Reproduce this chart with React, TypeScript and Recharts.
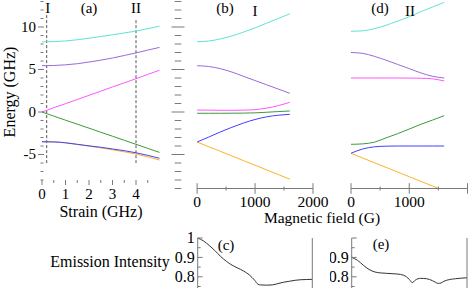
import { LineChart, Line, XAxis, YAxis, ReferenceLine } from "recharts";

// panel (a): energy vs strain
const strain = [0, 0.5, 1, 1.5, 2, 2.5, 3, 3.5, 4, 4.5, 5];
const aCyan = [8.25, 8.28, 8.36, 8.5, 8.68, 8.88, 9.08, 9.3, 9.52, 9.8, 10.1];
const aPurple = [5.45, 5.47, 5.55, 5.68, 5.88, 6.1, 6.35, 6.65, 6.95, 7.28, 7.6];
const aMagenta = [0, 0.5, 0.98, 1.47, 1.96, 2.45, 2.95, 3.43, 3.92, 4.42, 4.92];
const aGreen = [0, -0.48, -0.96, -1.43, -1.9, -2.38, -2.85, -3.33, -3.8, -4.28, -4.75];
const aBlue = [-3.5, -3.52, -3.62, -3.8, -3.98, -4.15, -4.35, -4.55, -4.8, -5.1, -5.45];
const aOrange = [-3.5, -3.52, -3.63, -3.82, -4.02, -4.22, -4.45, -4.68, -4.95, -5.28, -5.65];

// panels (b) and (d): energy vs magnetic field
const field = [0, 200, 400, 600, 800, 1000, 1200, 1400, 1600];
const bCyan = [8.27, 8.35, 8.6, 8.95, 9.4, 9.9, 10.45, 11.0, 11.55];
const bPurple = [5.45, 5.35, 5.1, 4.7, 4.2, 3.7, 3.2, 2.7, 2.2];
const bMagenta = [0.23, 0.22, 0.2, 0.2, 0.22, 0.28, 0.45, 0.75, 1.14];
const bGreen = [-0.15, -0.15, -0.15, -0.14, -0.13, -0.1, -0.03, 0.05, 0.12];
const bBlue = [-3.53, -2.95, -2.35, -1.8, -1.3, -0.88, -0.57, -0.38, -0.27];
const bOrange = [-3.53, -4.08, -4.62, -5.17, -5.72, -6.26, -6.81, -7.36, -7.9];

const dCyan = [9.5, 9.55, 9.8, 10.2, 10.7, 11.2, 11.8, 12.35, 12.9];
const dPurple = [7.0, 6.9, 6.55, 6.1, 5.6, 5.1, 4.6, 4.2, 4.0];
const dMagenta = [4.0, 4.0, 4.0, 4.0, 4.0, 3.99, 3.97, 3.9, 3.65];
const dGreen = [-3.8, -3.75, -3.55, -3.05, -2.55, -2.0, -1.45, -0.95, -0.43];
const dBlue = [-4.86, -4.35, -4.1, -4.02, -4.0, -4.0, -4.0, -4.0, -4.0];
const dOrange = [-4.86, -5.41, -5.96, -6.51, -7.06, -7.61, -8.16, -8.71, -9.26];

// panels (c) and (e): emission intensity
const cField = [0, 100, 200, 300, 400, 500, 600, 700, 800, 900, 1000, 1050, 1100, 1200, 1300, 1400, 1500, 1600, 1700, 1800, 1900, 2000];
const cIntensity = [1.0, 0.985, 0.962, 0.935, 0.905, 0.88, 0.86, 0.845, 0.83, 0.81, 0.78, 0.762, 0.758, 0.757, 0.758, 0.765, 0.772, 0.777, 0.782, 0.785, 0.786, 0.787];
const eField = [0, 100, 200, 300, 400, 500, 600, 700, 800, 900, 950, 1000, 1050, 1100, 1150, 1200, 1300, 1400, 1450, 1500, 1550, 1600, 1700, 1800, 1900, 2000];
const eIntensity = [0.9, 0.885, 0.86, 0.838, 0.825, 0.82, 0.818, 0.816, 0.814, 0.808, 0.8, 0.786, 0.77, 0.782, 0.79, 0.792, 0.79, 0.78, 0.772, 0.766, 0.768, 0.777, 0.786, 0.79, 0.793, 0.795];

const energyTicksA = [-8, -7, -6, -5, -4, -3, -2, -1, 0, 1, 2, 3, 4, 5, 6, 7, 8, 9, 10, 11, 12, 13];
const energyTicksB = [-9, ...energyTicksA];
const strainTicks = [0, 0.5, 1, 1.5, 2, 2.5, 3, 3.5, 4, 4.5];
const fieldTicks = [0, 500, 1000, 1500, 2000];
const intensityTicks = [0.75, 0.8, 0.85, 0.9, 0.95, 1];

const COLORS = {
  cyan: "#62e2d4",
  purple: "#9a6ad8",
  magenta: "#ff55ff",
  green: "#3c9a3c",
  blue: "#4040ff",
  orange: "#ffb028",
};
const AXIS = "#7a7a7a";
const FONT = '"Liberation Serif", "Times New Roman", serif';

const strainData = strain.map((x, i) => ({
  x,
  cyan: aCyan[i],
  purple: aPurple[i],
  magenta: aMagenta[i],
  green: aGreen[i],
  blue: aBlue[i],
  orange: aOrange[i],
}));
const bData = field.map((x, i) => ({
  x,
  cyan: bCyan[i],
  purple: bPurple[i],
  magenta: bMagenta[i],
  green: bGreen[i],
  blue: bBlue[i],
  orange: bOrange[i],
}));
const dData = field.map((x, i) => ({
  x,
  cyan: dCyan[i],
  purple: dPurple[i],
  magenta: dMagenta[i],
  green: dGreen[i],
  blue: dBlue[i],
  orange: dOrange[i],
}));
const cData = cField.map((x, i) => ({ x, v: cIntensity[i] }));
const eData = eField.map((x, i) => ({ x, v: eIntensity[i] }));

const seriesOrder = ["orange", "blue", "green", "magenta", "purple", "cyan"] as const;

function levelLines() {
  return seriesOrder.map((k) => (
    <Line
      key={k}
      type="monotone"
      dataKey={k}
      stroke={COLORS[k]}
      strokeWidth={1}
      dot={false}
      isAnimationActive={false}
    />
  ));
}

// left energy tick of panel (a), with labels at multiples of 5
function EnergyTickA(props: any) {
  const { x, y, payload } = props;
  const v = payload.value;
  const major = v % 5 === 0;
  return (
    <g>
      <line x1={x - (major ? 4 : 1.5)} x2={x + (major ? 2 : 1.5)} y1={y} y2={y} stroke={AXIS} />
      {major && v > -8 && (
        <text x={x - 6} y={y} dy="0.33em" textAnchor="end" fontSize={15} fontFamily={FONT} fill="#000">
          {v}
        </text>
      )}
    </g>
  );
}

// energy ticks of panel (b), no labels
function EnergyTickB(props: any) {
  const { x, y, payload } = props;
  const major = payload.value % 5 === 0;
  const h = major ? 6.5 : 3.3;
  return <line x1={x - h} x2={x + h} y1={y} y2={y} stroke={AXIS} />;
}

function StrainTick(props: any) {
  const { x, y, payload } = props;
  const v = payload.value;
  const major = Number.isInteger(v);
  return (
    <g>
      <line x1={x} x2={x} y1={y} y2={y + (major ? 5 : 3)} stroke={AXIS} />
      {major && (
        <text x={x} y={y + 14} dy="0.33em" textAnchor="middle" fontSize={15} fontFamily={FONT} fill="#000">
          {v}
        </text>
      )}
    </g>
  );
}

function makeFieldTick(showLast: boolean) {
  return (props: any) => {
    const { x, y, payload } = props;
    const v = payload.value;
    const major = v % 1000 === 0;
    const h = major ? 5.3 : 2;
    return (
      <g>
        <line x1={x} x2={x} y1={y - h} y2={y + h} stroke={AXIS} />
        {major && (showLast || v < 2000) && (
          <text x={x} y={y + 13.5} dy="0.33em" textAnchor="middle" fontSize={15.5} fontFamily={FONT} fill="#000">
            {v}
          </text>
        )}
      </g>
    );
  };
}

function makeIntensityTick(side: "left" | "right", showOne: boolean) {
  return (props: any) => {
    const { x, y, payload } = props;
    const v = payload.value;
    const major = Math.round(v * 100) % 10 === 0;
    const len = major ? 5 : 3;
    const dir = side === "left" ? 1 : -1;
    const label = v === 1 ? "1" : v.toFixed(1);
    return (
      <g>
        <line x1={x} x2={x + dir * len} y1={y} y2={y} stroke={AXIS} />
        {side === "left" && major && v >= 0.8 && (showOne || v < 1) && (
          <text x={x - 3} y={y} dy="0.33em" textAnchor="end" fontSize={16} fontFamily={FONT} fill="#000">
            {label}
          </text>
        )}
      </g>
    );
  };
}

function Txt({ x, y, size = 15, rotate = false, children }: any) {
  return (
    <div
      style={{
        position: "absolute",
        left: x,
        top: y,
        transform: `translate(-50%, -50%)${rotate ? " rotate(-90deg)" : ""}`,
        fontSize: size,
        lineHeight: 1,
        whiteSpace: "nowrap",
        color: "#000",
      }}
    >
      {children}
    </div>
  );
}

export default function App() {
  return (
    <div
      style={{
        position: "absolute",
        left: 0,
        top: 0,
        width: 469,
        height: 288,
        overflow: "hidden",
        background: "#fff",
        fontFamily: FONT,
      }}
    >
      {/* (a) energy vs strain */}
      <div style={{ position: "absolute", left: 0, top: 0 }}>
        <LineChart width={200} height={230} data={strainData} margin={{ top: 1.5, right: 40.5, bottom: 0, left: 0 }}>
          <XAxis
            dataKey="x"
            type="number"
            domain={[0, 5]}
            ticks={strainTicks}
            interval={0}
            axisLine={false}
            tickLine={false}
            tickSize={0}
            tickMargin={0}
            height={50}
            tick={StrainTick}
          />
          <YAxis
            type="number"
            domain={[-8, 13]}
            ticks={energyTicksA}
            interval={0}
            axisLine={false}
            tickLine={false}
            tickSize={0}
            tickMargin={0}
            width={42}
            tick={EnergyTickA}
          />
          <ReferenceLine segment={[{ x: 0.2, y: 11.4 }, { x: 0.2, y: -6 }]} stroke="#555" strokeDasharray="3 2" />
          <ReferenceLine segment={[{ x: 4, y: 10.8 }, { x: 4, y: -6 }]} stroke="#555" strokeDasharray="3 2" />
          {levelLines()}
        </LineChart>
      </div>

      {/* (b) energy vs field at strain I */}
      <div style={{ position: "absolute", left: 150, top: 0 }}>
        <LineChart width={180} height={230} data={bData} margin={{ top: 1.5, right: 17, bottom: 0, left: 0 }}>
          <XAxis
            dataKey="x"
            type="number"
            domain={[-330, 2000]}
            allowDataOverflow
            ticks={fieldTicks}
            interval={0}
            axisLine={false}
            tickLine={false}
            tickSize={0}
            tickMargin={0}
            height={41.5}
            tick={makeFieldTick(true)}
          />
          <YAxis
            type="number"
            domain={[-9, 13]}
            ticks={energyTicksB}
            interval={0}
            axisLine={false}
            tickLine={false}
            tickSize={0}
            tickMargin={0}
            width={28}
            tick={EnergyTickB}
          />
          <ReferenceLine segment={[{ x: 0, y: -9 }, { x: 2000, y: -9 }]} stroke={AXIS} />
          {levelLines()}
        </LineChart>
      </div>

      {/* (d) energy vs field at strain II */}
      <div style={{ position: "absolute", left: 330, top: 0 }}>
        <LineChart width={139} height={230} data={dData} margin={{ top: 1.5, right: 1.5, bottom: 0, left: 21 }}>
          <XAxis
            dataKey="x"
            type="number"
            domain={[0, 2000]}
            ticks={fieldTicks}
            interval={0}
            axisLine={{ stroke: AXIS }}
            tickLine={false}
            tickSize={0}
            tickMargin={0}
            height={41.5}
            tick={makeFieldTick(false)}
          />
          <YAxis type="number" domain={[-9, 13]} allowDataOverflow hide />
          {levelLines()}
        </LineChart>
      </div>

      {/* (c) emission intensity, strain I */}
      <div style={{ position: "absolute", left: 150, top: 230 }}>
        <LineChart width={180} height={70} data={cData} margin={{ top: 8, right: 16.7, bottom: 3.8, left: 0 }}>
          <XAxis dataKey="x" type="number" domain={[0, 2000]} hide />
          <YAxis
            type="number"
            domain={[0.7, 1]}
            ticks={intensityTicks}
            interval={0}
            axisLine={{ stroke: AXIS }}
            tickLine={false}
            tickSize={0}
            tickMargin={0}
            width={47.7}
            tick={makeIntensityTick("left", true)}
          />
          <YAxis
            yAxisId="r"
            orientation="right"
            type="number"
            domain={[0.7, 1]}
            ticks={intensityTicks}
            interval={0}
            axisLine={{ stroke: AXIS }}
            tickLine={false}
            tickSize={0}
            tickMargin={0}
            width={1}
            tick={makeIntensityTick("right", false)}
          />
          <Line type="monotone" dataKey="v" stroke="#333" strokeWidth={1} dot={false} isAnimationActive={false} />
        </LineChart>
      </div>

      {/* (e) emission intensity, strain II */}
      <div style={{ position: "absolute", left: 330, top: 230 }}>
        <LineChart width={139} height={70} data={eData} margin={{ top: 8, right: 1, bottom: 3.8, left: 0 }}>
          <XAxis dataKey="x" type="number" domain={[0, 2000]} hide />
          <YAxis
            type="number"
            domain={[0.7, 1]}
            ticks={intensityTicks}
            interval={0}
            axisLine={{ stroke: AXIS }}
            tickLine={false}
            tickSize={0}
            tickMargin={0}
            width={21.7}
            tick={makeIntensityTick("left", false)}
          />
          <YAxis
            yAxisId="r"
            orientation="right"
            type="number"
            domain={[0.7, 1]}
            ticks={intensityTicks}
            interval={0}
            axisLine={{ stroke: AXIS }}
            tickLine={false}
            tickSize={0}
            tickMargin={0}
            width={1}
            tick={makeIntensityTick("right", false)}
          />
          <Line type="monotone" dataKey="v" stroke="#333" strokeWidth={1} dot={false} isAnimationActive={false} />
        </LineChart>
      </div>

      <Txt x={47.7} y={8}>I</Txt>
      <Txt x={89} y={8}>(a)</Txt>
      <Txt x={136} y={8}>II</Txt>
      <Txt x={225} y={8}>(b)</Txt>
      <Txt x={255} y={11}>I</Txt>
      <Txt x={380} y={8}>(d)</Txt>
      <Txt x={410} y={11}>II</Txt>
      <Txt x={226} y={245}>(c)</Txt>
      <Txt x={381} y={244}>(e)</Txt>
      <Txt x={10} y={92} size={16} rotate>Energy (GHz)</Txt>
      <Txt x={101} y={212} size={16}>Strain (GHz)</Txt>
      <Txt x={322} y={218} size={15.5}>Magnetic field (G)</Txt>
      <Txt x={110} y={262} size={16}>Emission Intensity</Txt>
    </div>
  );
}
